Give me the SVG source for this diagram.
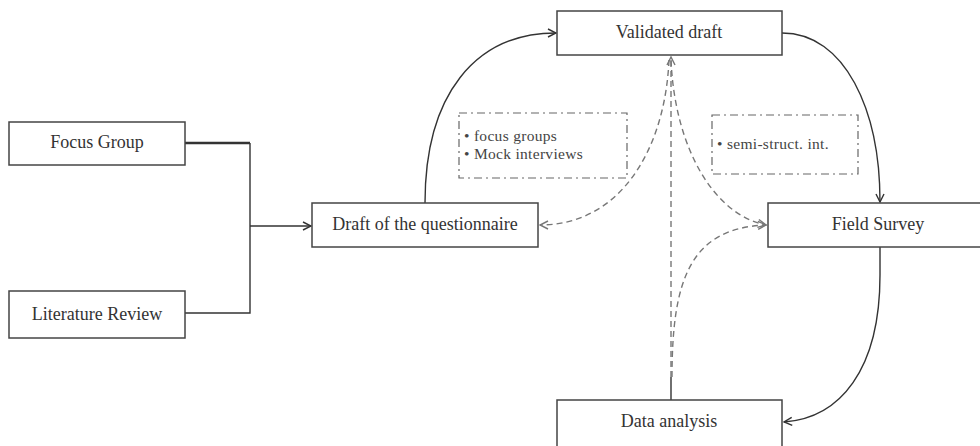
<svg xmlns="http://www.w3.org/2000/svg" width="980" height="446" viewBox="0 0 980 446">
<style>
.box{fill:#fff;stroke:#444;stroke-width:1.5}
.lbl{font-family:"Liberation Serif","Times New Roman",serif;font-size:18px;fill:#333;text-anchor:middle}
.note{fill:none;stroke:#666;stroke-width:1.2;stroke-dasharray:8 4 2 4}
.ntxt{font-family:"Liberation Serif","Times New Roman",serif;font-size:15.5px;letter-spacing:0.3px;fill:#444}
.solid{fill:none;stroke:#333;stroke-width:1.4}
.dash{fill:none;stroke:#777;stroke-width:1.4;stroke-dasharray:6 4}
</style>
<defs>
<marker id="ah" viewBox="0 0 10 10" refX="9" refY="5" markerWidth="10" markerHeight="10" markerUnits="userSpaceOnUse" orient="auto">
<path d="M1,1 L9,5 L1,9" fill="none" stroke="#333" stroke-width="1.4"/>
</marker>
<marker id="ahd" viewBox="0 0 10 10" refX="9" refY="5" markerWidth="10" markerHeight="10" markerUnits="userSpaceOnUse" orient="auto">
<path d="M1,1 L9,5 L1,9" fill="none" stroke="#777" stroke-width="1.4"/>
</marker>
</defs>
<rect width="980" height="446" fill="#fff"/>
<g id="connectors">
<path d="M185,143 H250" fill="none" stroke="#333" stroke-width="2.6"/>
<path class="solid" d="M250,143 V313 H185"/>
<path class="solid" d="M250,226 H311" marker-end="url(#ah)"/>
<path class="solid" d="M425,203 C425,95 475,33 556,33" marker-end="url(#ah)"/>
<path class="solid" d="M782,33 C845,33 880,110 880,202" marker-end="url(#ah)"/>
<path class="solid" d="M880,247 V275 C880,370 840,418 784,422" marker-end="url(#ah)"/>
<path class="solid" d="M671,400 V377"/>
<path class="dash" d="M671,377 V57" marker-end="url(#ahd)"/>
<path class="dash" d="M669,60 C665,150 620,225 540,225" marker-end="url(#ahd)"/>
<path class="dash" d="M671,60 C675,150 715,215 766,225" marker-end="url(#ahd)"/>
<path class="dash" d="M672,377 C672,280 690,228 766,225" marker-end="url(#ahd)"/>
</g>
<g id="focus-group">
<rect class="box" x="9" y="122" width="176" height="43"/>
<text class="lbl" x="97" y="148">Focus Group</text>
</g>
<g id="literature-review">
<rect class="box" x="9" y="291" width="176" height="47"/>
<text class="lbl" x="97" y="320">Literature Review</text>
</g>
<g id="draft">
<rect class="box" x="312" y="203" width="226" height="44"/>
<text class="lbl" x="425" y="230">Draft of the questionnaire</text>
</g>
<g id="validated-draft">
<rect class="box" x="557" y="11" width="225" height="44"/>
<text class="lbl" x="669" y="38">Validated draft</text>
</g>
<g id="field-survey">
<rect class="box" x="768" y="203" width="214" height="44"/>
<text class="lbl" x="878" y="230">Field Survey</text>
</g>
<g id="data-analysis">
<rect class="box" x="557" y="400" width="225" height="50"/>
<text class="lbl" x="669" y="427">Data analysis</text>
</g>
<g id="note-focus">
<rect class="note" x="459" y="113" width="168" height="65"/>
<text class="ntxt" x="464" y="141">• focus groups</text>
<text class="ntxt" x="464" y="159">• Mock interviews</text>
</g>
<g id="note-semi">
<rect class="note" x="712" y="115" width="146" height="59"/>
<text class="ntxt" x="717" y="149">• semi-struct. int.</text>
</g>
</svg>
